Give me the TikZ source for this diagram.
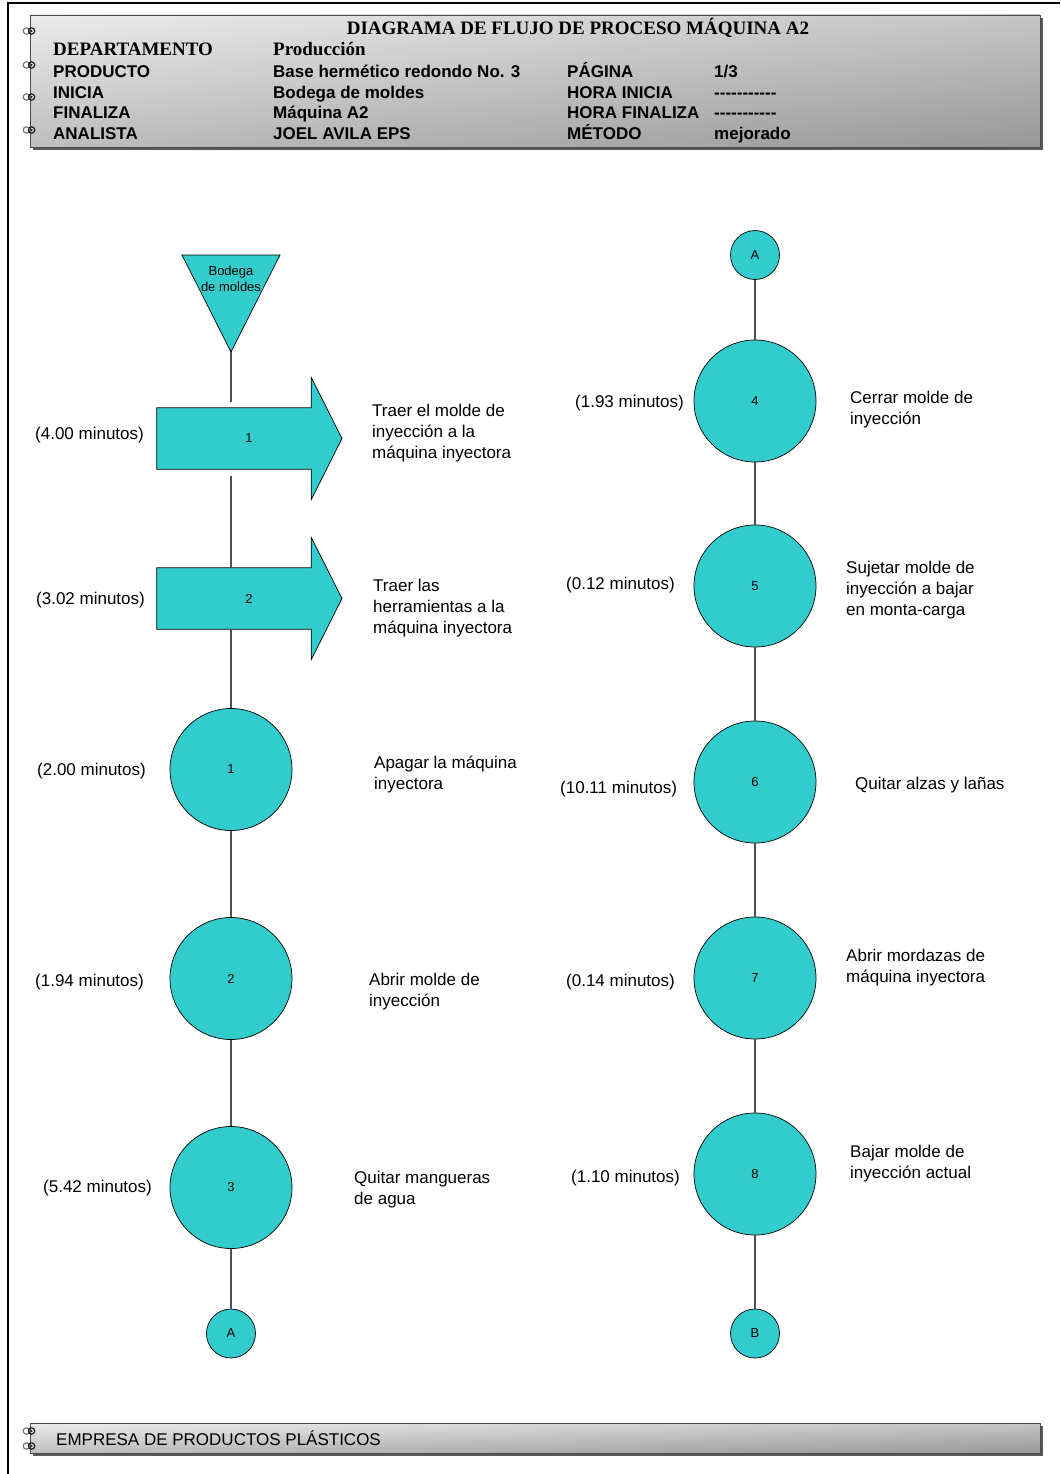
\documentclass[tikz,border=0pt]{standalone}
\usepackage{fontspec}
\setmainfont{Liberation Serif}
\setsansfont{Liberation Sans}
\usetikzlibrary{calc}
\definecolor{procfill}{RGB}{51,204,204}
\definecolor{linegray}{RGB}{80,80,80}
% a run of separate hyphens (kerns keep them from merging into dashes)
\newcommand\blankline{-\kern0pt-\kern0pt-\kern0pt-\kern0pt-\kern0pt-\kern0pt-\kern0pt-\kern0pt-\kern0pt-\kern0pt-}

\begin{document}
\begin{tikzpicture}[x=1pt,y=-1pt,
  bindring/.pic={
    \draw[black!55, line width=1.1pt] (-2.6,0) circle (3.2);
    \draw[black!90, line width=1.1pt] (2.6,0) circle (3.2);
    \fill[black!90] (2.6,0) circle (1);
  },
  hdrserif/.style={font=\rmfamily\bfseries\fontsize{19}{22}\selectfont, inner sep=0, anchor=base west},
  hdrsans/.style={font=\sffamily\bfseries\fontsize{17}{20}\selectfont, inner sep=0, anchor=base west},
  lbl/.style={font=\sffamily\fontsize{17}{21}\selectfont, align=left, inner sep=0, anchor=west, yshift=-2pt},
  opcircle/.style={circle, draw=black, line width=0.7pt, fill=procfill, minimum size=122pt, inner sep=0,
    font=\sffamily\fontsize{13}{15}\selectfont},
  linkcircle/.style={circle, draw=black, line width=0.7pt, fill=procfill, minimum size=49pt, inner sep=0,
    font=\sffamily\fontsize{13}{15}\selectfont},
  arrowbody/.style={rectangle, minimum width=154pt, minimum height=61pt, inner sep=0},
  numlbl/.style={font=\sffamily\fontsize{13}{15}\selectfont, inner sep=0},
  flow/.style={draw=linegray, line width=1.1pt},
  shapeline/.style={draw=black, line width=0.7pt, fill=procfill}
]
\useasboundingbox (0,0) rectangle (1060,1474);

% page frame
\draw[line width=2pt] (8,1474) -- (8,3) -- (1060,3);

% ---------- header card ----------
\fill[black!65] (33,18) rectangle (1043,150);
\shade[left color=gray!18, right color=gray!55] (30,15) rectangle (1040,147);
\shade[top color=white, bottom color=black, opacity=0.18] (30,15) rectangle (1040,147);
\draw[black!70, line width=0.8pt] (30,15) rectangle (1040,147);
\foreach \ry in {31,65,97,130} \pic at (29,\ry) {bindring};

\node[font=\rmfamily\bfseries\fontsize{19}{22}\selectfont, inner sep=0, anchor=base] (title) at (578,34.5)
  {DIAGRAMA DE FLUJO DE PROCESO MÁQUINA A2};
\node[hdrserif] (hdep) at (53,56) {DEPARTAMENTO};
\node[hdrserif] (vdep) at (273,56) {Producción};
\node[hdrsans] (hprod) at (53,78) {PRODUCTO};
\node[hdrsans] (vprod) at (273,78) {Base hermético redondo No. 3};
\node[hdrsans] (hpag) at (567,78) {PÁGINA};
\node[hdrsans] (vpag) at (714,78) {1/3};
\node[hdrsans] (hini) at (53,99) {INICIA};
\node[hdrsans] (vini) at (273,99) {Bodega de moldes};
\node[hdrsans] (hhini) at (567,99) {HORA INICIA};
\node[hdrsans] (vhini) at (714,99) {\blankline};
\node[hdrsans] (hfin) at (53,119) {FINALIZA};
\node[hdrsans] (vfin) at (273,119) {Máquina A2};
\node[hdrsans] (hhfin) at (567,119) {HORA FINALIZA};
\node[hdrsans] (vhfin) at (714,119) {\blankline};
\node[hdrsans] (hana) at (53,140) {ANALISTA};
\node[hdrsans] (vana) at (273,140) {JOEL AVILA EPS};
\node[hdrsans] (hmet) at (567,140) {MÉTODO};
\node[hdrsans] (vmet) at (714,140) {mejorado};

% ---------- left column ----------
% storage (start)
\path[shapeline] (182,255) -- (280,255) -- (231,352) -- cycle;
\coordinate (bodtip) at (231,352);
\node[font=\sffamily\fontsize{13}{16}\selectfont, align=center, inner sep=0] (bod) at (231,279) {Bodega\\de moldes};

% transport 1
\node[arrowbody] (t1) at (234,438.5) {};
\path[shapeline] (t1.north west) -- (t1.north east) -- ++(0,-30.5) -- (342,438.5)
  -- ($(t1.south east)+(0,30.5)$) -- (t1.south east) -- (t1.south west) -- cycle;
\node[numlbl] (t1n) at (249,438.5) {1};

% transport 2
\node[arrowbody] (t2) at (234,598.5) {};
\path[shapeline] (t2.north west) -- (t2.north east) -- ++(0,-30.5) -- (342,598.5)
  -- ($(t2.south east)+(0,30.5)$) -- (t2.south east) -- (t2.south west) -- cycle;
\node[numlbl] (t2n) at (249,598.5) {2};

\node[opcircle] (c1) at (231,769.5) {1};
\node[opcircle] (c2) at (231,978.5) {2};
\node[opcircle] (c3) at (231,1187.5) {3};
\node[linkcircle] (la) at (231,1333.5) {A};

\draw[flow, shorten >=6pt] (bodtip) -- (bodtip |- t1.north);
\draw[flow, shorten <=7pt] (bodtip |- t1.south) -- (bodtip |- t2.north);
\draw[flow] (c1 |- t2.south) -- (c1.north);
\draw[flow] (c1) -- (c2);
\draw[flow] (c2) -- (c3);
\draw[flow] (c3) -- (la);

% times
\node[lbl] (m1) at (35,433) {(4.00 minutos)};
\node[lbl] (m2) at (36,598) {(3.02 minutos)};
\node[lbl] (m3) at (37,769) {(2.00 minutos)};
\node[lbl] (m4) at (35,980) {(1.94 minutos)};
\node[lbl] (m5) at (43,1186) {(5.42 minutos)};

% descriptions
\node[lbl] (d1) at (372,431) {Traer el molde de\\inyección a la\\máquina inyectora};
\node[lbl] (d2) at (373,606) {Traer las\\herramientas a la\\máquina inyectora};
\node[lbl] (d3) at (374,772.5) {Apagar la máquina\\inyectora};
\node[lbl] (d4) at (369,989.5) {Abrir molde de\\inyección};
\node[lbl] (d5) at (354,1188) {Quitar mangueras\\de agua};

% ---------- right column ----------
\node[linkcircle] (ra) at (755,255) {A};
\node[opcircle] (c4) at (755,401) {4};
\node[opcircle] (c5) at (755,586) {5};
\node[opcircle] (c6) at (755,782) {6};
\node[opcircle] (c7) at (755,978) {7};
\node[opcircle] (c8) at (755,1174) {8};
\node[linkcircle] (rb) at (755,1333.5) {B};

\draw[flow] (ra) -- (c4);
\draw[flow] (c4) -- (c5);
\draw[flow] (c5) -- (c6);
\draw[flow] (c6) -- (c7);
\draw[flow] (c7) -- (c8);
\draw[flow] (c8) -- (rb);

\node[lbl] (m6) at (575,401) {(1.93 minutos)};
\node[lbl] (m7) at (566,583) {(0.12 minutos)};
\node[lbl] (m8) at (560,787) {(10.11 minutos)};
\node[lbl] (m9) at (566,980) {(0.14 minutos)};
\node[lbl] (m10) at (571,1176) {(1.10 minutos)};

\node[lbl] (d6) at (850,408) {Cerrar molde de\\inyección};
\node[lbl] (d7) at (846,588) {Sujetar molde de\\inyección a bajar\\en monta-carga};
\node[lbl] (d8) at (855,783) {Quitar alzas y lañas};
\node[lbl] (d9) at (846,965.5) {Abrir mordazas de\\máquina inyectora};
\node[lbl] (d10) at (850,1161.5) {Bajar molde de\\inyección actual};

% ---------- footer card ----------
\fill[black!65] (33,1426) rectangle (1043,1456);
\shade[left color=gray!18, right color=gray!55] (30,1423) rectangle (1040,1453);
\shade[top color=white, bottom color=black, opacity=0.18] (30,1423) rectangle (1040,1453);
\draw[black!70, line width=0.8pt] (30,1423) rectangle (1040,1453);
\foreach \ry in {1431,1446} \pic at (29,\ry) {bindring};
\node[font=\sffamily\fontsize{17}{20}\selectfont, inner sep=0, anchor=west] (empresa) at (56,1438)
  {EMPRESA DE PRODUCTOS PLÁSTICOS};
\end{tikzpicture}
\end{document}
